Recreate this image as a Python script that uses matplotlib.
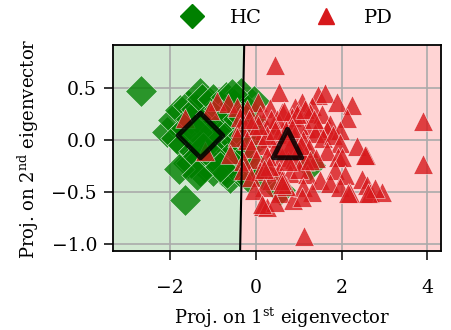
import matplotlib
matplotlib.use('Agg')
import matplotlib.pyplot as plt
from matplotlib.lines import Line2D
import numpy as np

# HC samples (projection on 1st / 2nd eigenvector)
hc_x = [-2.67, -1.65, -2.08, -1.93, -1.85, -1.76, -1.70, -1.58, -1.58, -1.62,
        -1.50, -1.45, -1.40, -1.35, -1.30, -1.26, -1.20, -1.18, -1.15, -1.10,
        -1.05, -0.99, -1.00, -0.95, -0.90, -0.88, -0.85, -0.80, -0.78, -0.75,
        -0.71, -0.70, -0.65, -0.60, -0.60, -0.55, -0.50, -0.50, -0.45, -0.42,
        -0.38, -0.35, -0.30, -0.25, -0.22, -0.18, -0.15, -0.10, -0.05, 0.00,
        0.10, 0.17, 0.57, 1.27, -1.38, -1.22, -0.68,
        -1.00, -1.30, -1.52, -0.99, -0.67, -0.83, -1.80, -1.36, -0.55, -0.30]
hc_y = [0.47, -0.58, 0.08, 0.19, 0.02, 0.29, -0.05, 0.34, -0.22, 0.12,
        0.20, -0.10, 0.30, -0.20, 0.45, 0.40, 0.15, -0.26, 0.00, -0.12,
        0.25, 0.40, -0.05, 0.10, -0.20, -0.14, 0.30, 0.05, -0.30, 0.18,
        -0.29, 0.42, -0.08, -0.36, 0.25, 0.10, -0.20, 0.35, -0.02, 0.20,
        -0.30, 0.45, 0.05, -0.15, 0.30, -0.35, 0.15, -0.05, 0.38, -0.25,
        0.10, -0.34, -0.48, -0.24, 0.08, -0.08, -0.18,
        -0.30, -0.30, -0.22, -0.16, -0.32, -0.26, -0.28, -0.34, 0.44, 0.22]

# PD samples
pd_x = [0.55, 1.45, 1.62, -0.90, 0.05, 1.08, 1.90, 2.25, -0.64, -0.44,
        0.92, 0.33, 1.30, -0.20, -1.06, 1.27, 0.60, 0.10, -0.37, 1.55,
        0.85, 2.12, -1.64, 0.75, 1.73, 1.20, 0.40, -0.10, 1.00, -0.37,
        1.66, 1.97, 0.20, 1.45, 1.38, 1.57, 0.00, 0.30, 0.55, 0.90,
        1.10, -0.44, -0.20, 1.80, 1.97, 2.36, 0.15, 0.45, 0.80, 1.25,
        1.66, -0.10, -1.18, -0.60, 1.00, 2.58, 1.92, 0.40, 0.00, 0.60,
        0.90, 1.40, 2.00, 2.55, -0.30, 1.15, 0.25, -0.29, 1.85, 2.08,
        0.10, 0.55, 0.80, 1.20, 1.50, -0.10, 2.48, 1.00, 0.35, 1.73,
        1.96, 2.20, 2.60, 2.67, 2.95, 2.78, 2.16, 2.62, 0.57, 0.87,
        0.20, 1.10, -0.05, 0.70, 1.30, 0.17, 0.26, 0.45, 0.15, 1.08,
        0.45, 3.90, 3.90, 1.13, 0.50, 0.70, 0.65, 0.35, 0.95, 1.15,
        0.25, 0.75, 0.05, 1.35, 0.60, -0.15, 0.85, 1.05, 0.45, 0.30,
        0.20, 1.27, 0.62]
pd_y = [0.46, 0.43, 0.45, 0.38, 0.37, 0.37, 0.37, 0.34, 0.36, 0.32,
        0.32, 0.31, 0.33, 0.30, 0.29, 0.26, 0.27, 0.24, 0.22, 0.25,
        0.22, 0.21, 0.21, 0.19, 0.16, 0.11, 0.15, 0.14, 0.15, 0.13,
        0.10, 0.10, 0.10, 0.12, 0.07, 0.02, 0.05, 0.02, 0.06, 0.04,
        0.00, 0.03, 0.00, 0.05, -0.03, -0.06, -0.05, -0.08, -0.06, -0.08,
        -0.10, -0.08, -0.10, -0.13, -0.10, -0.14, -0.16, -0.24, -0.18, -0.16,
        -0.18, -0.17, -0.16, -0.14, -0.20, -0.20, -0.15, -0.29, -0.29, -0.34,
        -0.30, -0.30, -0.32, -0.33, -0.38, -0.35, -0.37, -0.28, -0.38, -0.41,
        -0.45, -0.51, -0.43, -0.51, -0.50, -0.46, -0.51, -0.51, -0.51, -0.58,
        -0.45, -0.45, -0.48, -0.44, -0.50, -0.63, -0.64, -0.60, -0.61, -0.55,
        0.72, 0.18, -0.23, -0.92, 0.20, 0.10, 0.28, 0.20, 0.25, 0.30,
        0.05, -0.20, 0.15, 0.20, -0.38, 0.20, 0.12, -0.05, 0.10, -0.25,
        -0.28, -0.19, -0.42]

hc_mean = (-1.29, 0.05)
pd_mean = (0.72, -0.03)

# decision boundary (two end points in data coords)
bound_x = [-0.366, -0.27]
bound_y = [-1.067, 0.916]

plt.rcParams['font.family'] = ['DejaVu Serif']
plt.rcParams['mathtext.fontset'] = 'dejavuserif'

GREEN = '#008000'
RED = '#d7191c'

fig = plt.figure(figsize=(4.51, 3.30), dpi=100)
ax = fig.add_axes([0.2506, 0.2394, 0.9778 - 0.2506, 0.8636 - 0.2394])

xlim = (-3.33, 4.32)
ylim = (-1.067, 0.916)

# shaded regions on each side of the boundary
ax.fill_betweenx(bound_y, [xlim[0], xlim[0]], bound_x, color=GREEN, alpha=0.18, lw=0, zorder=0.2)
ax.fill_betweenx(bound_y, bound_x, [xlim[1], xlim[1]], color='red', alpha=0.17, lw=0, zorder=0.2)

ax.set_axisbelow(True)
ax.grid(True, color='#aaaaaa', lw=1.2)

ax.scatter(hc_x, hc_y, marker='D', s=260, c=GREEN, alpha=0.8,
           edgecolors='white', linewidths=0.4, zorder=2)
ax.scatter(pd_x, pd_y, marker='^', s=200, c=RED, alpha=0.8,
           edgecolors='white', linewidths=0.4, zorder=3)

ax.plot(bound_x, bound_y, color='black', lw=1.5, zorder=4)

ax.scatter([hc_mean[0]], [hc_mean[1]], marker='D', s=520, c=GREEN, alpha=0.85,
           edgecolors='black', linewidths=3.5, zorder=5)
ax.scatter([pd_mean[0]], [pd_mean[1]], marker='^', s=420, c=RED, alpha=0.85,
           edgecolors='black', linewidths=3.5, zorder=5)

ax.set_xlim(xlim)
ax.set_ylim(ylim)
ax.set_xticks([-2, 0, 2, 4])
ax.set_yticks([-1.0, -0.5, 0.0, 0.5])
ax.tick_params(direction='out', length=6.5, width=1.1, color='black', labelsize=13.5)
ax.tick_params(axis='x', pad=14)
ax.tick_params(axis='y', pad=5)
for sp in ax.spines.values():
    sp.set_linewidth(1.3)

fig.text(282 / 451, 1 - 324 / 330, r'Proj. on 1$^{\mathrm{st}}$ eigenvector',
         ha='center', va='baseline', fontsize=13)
fig.text(28 / 451, 1 - 149 / 330, r'Proj. on 2$^{\mathrm{nd}}$ eigenvector',
         ha='center', va='center', rotation=90, fontsize=13)

handles = [Line2D([], [], ls='none', marker='D', ms=12, color=GREEN, label='HC'),
           Line2D([], [], ls='none', marker='^', ms=11, color=RED, label='PD')]
fig.legend(handles=handles, loc='center', bbox_to_anchor=(283 / 451, 1 - 18 / 330), ncol=2,
           frameon=False, handletextpad=0.95, columnspacing=2.3, fontsize=14)

fig.savefig('out.png', dpi=100)
